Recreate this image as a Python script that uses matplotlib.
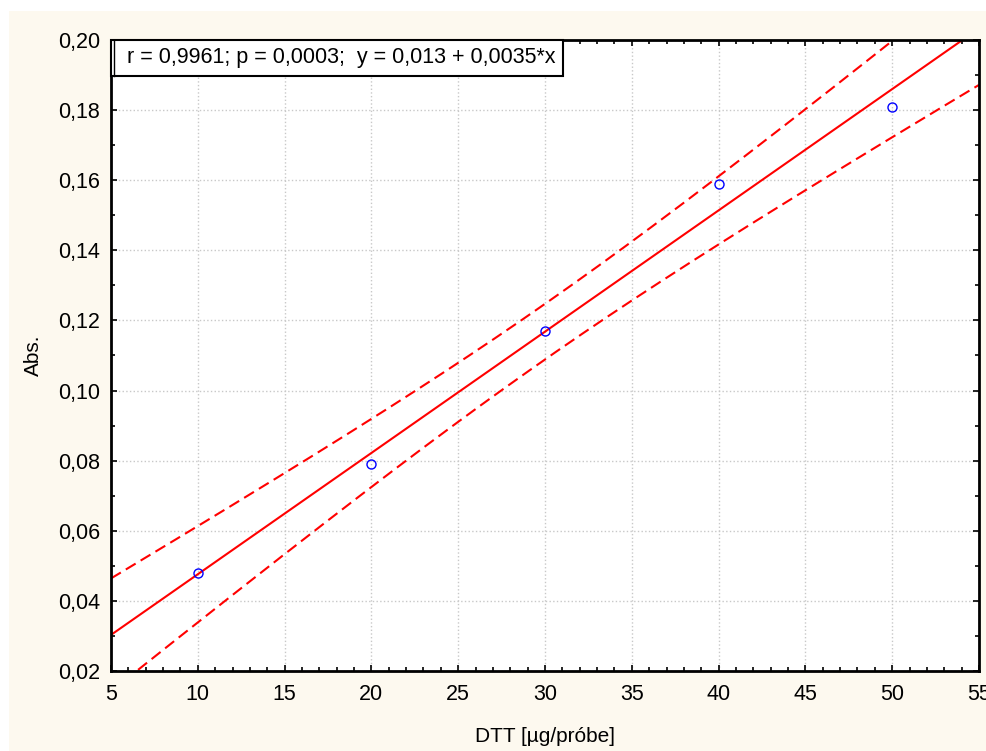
import matplotlib
matplotlib.use('Agg')
import matplotlib.pyplot as plt
from matplotlib.patches import Rectangle
from matplotlib.ticker import MultipleLocator, FuncFormatter
import numpy as np

# dane pomiarowe
dtt = np.array([10, 20, 30, 40, 50])
absorbancja = np.array([0.048, 0.079, 0.117, 0.159, 0.181])
opis = "r = 0,9961; p = 0,0003;  y = 0,013 + 0,0035*x"
t_975_df3 = 3.182  # kwantyl t-Studenta dla 95%, 3 stopnie swobody

plt.rcParams['font.family'] = ['Liberation Sans', 'DejaVu Sans']

# regresja liniowa i pasmo ufności
b, a = np.polyfit(dtt, absorbancja, 1)
n = len(dtt)
reszty = absorbancja - (a + b * dtt)
s = np.sqrt(np.sum(reszty ** 2) / (n - 2))
sxx = np.sum((dtt - dtt.mean()) ** 2)
xs = np.linspace(5, 55, 200)
ys = a + b * xs
pol = t_975_df3 * s * np.sqrt(1 / n + (xs - dtt.mean()) ** 2 / sxx)

fig = plt.figure(figsize=(9.86, 7.51), dpi=100)
fig.patch.set_facecolor('white')
fig.patches.append(Rectangle((9 / 986, 0), 1, 1 - 11 / 751, transform=fig.transFigure,
                             facecolor='#fdf9ef', edgecolor='none', zorder=-10))

ax = fig.add_axes([111 / 986, 1 - 671 / 751, 868 / 986, 631 / 751])
ax.set_zorder(1)
ax.set_facecolor('white')

ax.plot(xs, ys, color='red', lw=1.5)
ax.plot(xs, ys + pol, color='red', lw=1.5, dashes=(5.5, 2.8))
ax.plot(xs, ys - pol, color='red', lw=1.5, dashes=(5.5, 2.8))
ax.plot(dtt, absorbancja, 'o', mfc='none', mec='blue', ms=6.5, mew=1)

ax.set_xlim(5, 55)
ax.set_ylim(0.02, 0.20)
ax.xaxis.set_major_locator(MultipleLocator(5))
ax.xaxis.set_minor_locator(MultipleLocator(1))
ax.yaxis.set_major_locator(MultipleLocator(0.02))
ax.yaxis.set_minor_locator(MultipleLocator(0.01))
ax.yaxis.set_major_formatter(FuncFormatter(lambda v, p: f"{v:.2f}".replace('.', ',')))
ax.tick_params(which='both', direction='in', top=True, right=True, labelsize=15.5, width=1.2)
ax.tick_params(which='major', length=4, pad=8)
ax.tick_params(axis='x', which='major', pad=9)
ax.tick_params(which='minor', length=3)
for sp in ax.spines.values():
    sp.set_linewidth(2)
ax.grid(True, which='major', color='#c8c8c8', linestyle=':', linewidth=1)
ax.set_axisbelow(True)

ax.set_xlabel("DTT [µg/próbe]", fontsize=15, labelpad=16)
ax.set_ylabel("Abs.", fontsize=15, labelpad=11)

# ramka z opisem regresji (podwójna lewa krawędź jak w Statistica)
ax.add_patch(Rectangle((0, 1 - 36 / 631), 452 / 868, 36 / 631, transform=ax.transAxes,
                       facecolor='white', edgecolor='black', lw=1.5, zorder=5, clip_on=False))
ax.plot([2.5 / 868, 2.5 / 868], [1 - 36 / 631, 1], transform=ax.transAxes,
        color='black', lw=1, zorder=6, clip_on=False)
ax.text(16 / 868, 1 - 18 / 631, opis, transform=ax.transAxes, fontsize=15.5,
        va='center', ha='left', zorder=7)

plt.savefig('out.png', dpi=100)
plt.close()
